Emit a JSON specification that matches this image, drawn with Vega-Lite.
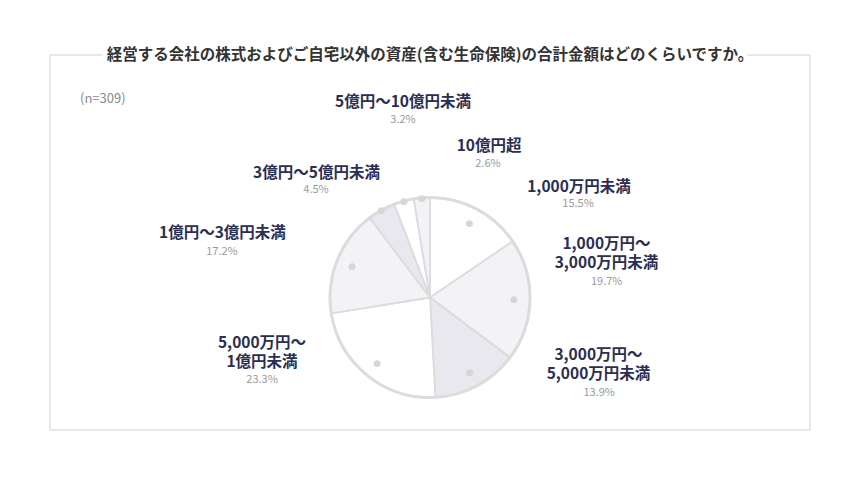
{
  "$schema": "https://vega.github.io/schema/vega-lite/v6.json",
  "width": 760,
  "height": 375,
  "autosize": "none",
  "padding": {"left": 50, "top": 55, "right": 50, "bottom": 50},
  "background": "white",
  "view": {"stroke": "#e8e8e8", "strokeWidth": 2},
  "title": {
    "text": "経営する会社の株式およびご自宅以外の資産(含む生命保険)の合計金額はどのくらいですか。",
    "subtitle": "経営する会社の株式およびご自宅以外の資産(含む生命保険)の合計金額はどのくらいですか。",
    "anchor": "middle",
    "frame": "group",
    "offset": -8,
    "baseline": "top",
    "font": "Noto Sans CJK JP",
    "fontSize": 15.5,
    "fontWeight": "bold",
    "color": "white",
    "subtitleFont": "Noto Sans CJK JP",
    "subtitleFontSize": 15.5,
    "subtitleFontWeight": "bold",
    "subtitleColor": "#333333",
    "subtitlePadding": -15.5
  },
  "config": {
    "style": {"group-title": {"stroke": "white", "strokeWidth": 10}},
    "text": {"font": "Noto Sans CJK JP"}
  },
  "data": {
    "values": [
      {"rank": 1, "category": "1,000万円未満", "label": "1,000万円未満", "share": 0.155},
      {"rank": 2, "category": "1,000万円〜3,000万円未満", "label": "1,000万円〜\n3,000万円未満", "share": 0.197},
      {"rank": 3, "category": "3,000万円〜5,000万円未満", "label": "3,000万円〜\n5,000万円未満", "share": 0.139},
      {"rank": 4, "category": "5,000万円〜1億円未満", "label": "5,000万円〜\n1億円未満", "share": 0.233},
      {"rank": 5, "category": "1億円〜3億円未満", "label": "1億円〜3億円未満", "share": 0.172},
      {"rank": 6, "category": "3億円〜5億円未満", "label": "3億円〜5億円未満", "share": 0.045},
      {"rank": 7, "category": "5億円〜10億円未満", "label": "5億円〜10億円未満", "share": 0.032},
      {"rank": 8, "category": "10億円超", "label": "10億円超", "share": 0.026}
    ]
  },
  "layer": [
    {
      "encoding": {
        "theta": {"field": "share", "type": "quantitative", "stack": true},
        "order": {"field": "rank", "type": "quantitative"}
      },
      "layer": [
        {
          "mark": {"type": "arc", "radius": 100, "yOffset": 55, "stroke": "#dcdcdc", "strokeWidth": 1.8},
          "encoding": {
            "color": {
              "field": "category",
              "type": "nominal",
              "legend": null,
              "scale": {
                "domain": ["1,000万円未満", "1,000万円〜3,000万円未満", "3,000万円〜5,000万円未満", "5,000万円〜1億円未満", "1億円〜3億円未満", "3億円〜5億円未満", "5億円〜10億円未満", "10億円超"],
                "range": ["#ffffff", "#f3f3f7", "#e8e8ee", "#ffffff", "#f3f3f7", "#e8e8ee", "#ffffff", "#f3f3f7"]
              }
            }
          }
        },
        {
          "mark": {"type": "arc", "radius": 100, "radius2": 100, "yOffset": 55, "fillOpacity": 0, "stroke": "#dcdcdc", "strokeWidth": 3}
        },
        {
          "mark": {"type": "text", "radius": 84, "yOffset": 55, "font": "DejaVu Sans", "fontSize": 9, "fill": "#d6d6d6", "align": "center", "baseline": "middle"},
          "encoding": {"text": {"condition": {"test": "datum.rank <= 5", "value": "●"}, "value": ""}}
        },
        {
          "mark": {"type": "text", "radius": 100, "yOffset": 55, "font": "DejaVu Sans", "fontSize": 9, "fill": "#d6d6d6", "align": "center", "baseline": "middle"},
          "encoding": {"text": {"condition": {"test": "datum.rank >= 6", "value": "●"}, "value": ""}}
        },

        {
          "mark": {"type": "text", "radius": 84, "yOffset": 55, "dx": 109.7, "dy": -36.5, "fontSize": 15.5, "fontWeight": "bold", "fill": "#2b2e50", "align": "center", "baseline": "middle", "lineBreak": "\n", "lineHeight": 19},
          "encoding": {"text": {"condition": {"test": "datum.rank == 1", "field": "label"}, "value": ""}}
        },
        {
          "mark": {"type": "text", "radius": 84, "yOffset": 55, "dx": 108.7, "dy": -19.3, "fontSize": 11, "fill": "#9a9a9a", "align": "center", "baseline": "middle"},
          "encoding": {"text": {"condition": {"test": "datum.rank == 1", "field": "share", "format": ".1%"}, "value": ""}}
        },

        {
          "mark": {"type": "text", "radius": 84, "yOffset": 55, "dx": 92.5, "dy": -55.5, "fontSize": 15.5, "fontWeight": "bold", "fill": "#2b2e50", "align": "center", "baseline": "middle", "lineBreak": "\n", "lineHeight": 19},
          "encoding": {"text": {"condition": {"test": "datum.rank == 2", "field": "label"}, "value": ""}}
        },
        {
          "mark": {"type": "text", "radius": 84, "yOffset": 55, "dx": 92.7, "dy": -17.5, "fontSize": 11, "fill": "#9a9a9a", "align": "center", "baseline": "middle"},
          "encoding": {"text": {"condition": {"test": "datum.rank == 2", "field": "share", "format": ".1%"}, "value": ""}}
        },

        {
          "mark": {"type": "text", "radius": 84, "yOffset": 55, "dx": 128.9, "dy": -16.5, "fontSize": 15.5, "fontWeight": "bold", "fill": "#2b2e50", "align": "center", "baseline": "middle", "lineBreak": "\n", "lineHeight": 19},
          "encoding": {"text": {"condition": {"test": "datum.rank == 3", "field": "label"}, "value": ""}}
        },
        {
          "mark": {"type": "text", "radius": 84, "yOffset": 55, "dx": 129.6, "dy": 21, "fontSize": 11, "fill": "#9a9a9a", "align": "center", "baseline": "middle"},
          "encoding": {"text": {"condition": {"test": "datum.rank == 3", "field": "share", "format": ".1%"}, "value": ""}}
        },

        {
          "mark": {"type": "text", "radius": 84, "yOffset": 55, "dx": -115.2, "dy": -19.8, "fontSize": 15.5, "fontWeight": "bold", "fill": "#2b2e50", "align": "center", "baseline": "middle", "lineBreak": "\n", "lineHeight": 19},
          "encoding": {"text": {"condition": {"test": "datum.rank == 4", "field": "label"}, "value": ""}}
        },
        {
          "mark": {"type": "text", "radius": 84, "yOffset": 55, "dx": -115.2, "dy": 17.3, "fontSize": 11, "fill": "#9a9a9a", "align": "center", "baseline": "middle"},
          "encoding": {"text": {"condition": {"test": "datum.rank == 4", "field": "share", "format": ".1%"}, "value": ""}}
        },

        {
          "mark": {"type": "text", "radius": 84, "yOffset": 55, "dx": -129.6, "dy": -32.7, "fontSize": 15.5, "fontWeight": "bold", "fill": "#2b2e50", "align": "center", "baseline": "middle", "lineBreak": "\n", "lineHeight": 19},
          "encoding": {"text": {"condition": {"test": "datum.rank == 5", "field": "label"}, "value": ""}}
        },
        {
          "mark": {"type": "text", "radius": 84, "yOffset": 55, "dx": -130.1, "dy": -14.5, "fontSize": 11, "fill": "#9a9a9a", "align": "center", "baseline": "middle"},
          "encoding": {"text": {"condition": {"test": "datum.rank == 5", "field": "share", "format": ".1%"}, "value": ""}}
        },

        {
          "mark": {"type": "text", "radius": 100, "yOffset": 55, "dx": -65, "dy": -37.2, "fontSize": 15.5, "fontWeight": "bold", "fill": "#2b2e50", "align": "center", "baseline": "middle", "lineBreak": "\n", "lineHeight": 19},
          "encoding": {"text": {"condition": {"test": "datum.rank == 6", "field": "label"}, "value": ""}}
        },
        {
          "mark": {"type": "text", "radius": 100, "yOffset": 55, "dx": -65.5, "dy": -20, "fontSize": 11, "fill": "#9a9a9a", "align": "center", "baseline": "middle"},
          "encoding": {"text": {"condition": {"test": "datum.rank == 6", "field": "share", "format": ".1%"}, "value": ""}}
        },

        {
          "mark": {"type": "text", "radius": 100, "yOffset": 55, "dx": -0.9, "dy": -98.5, "fontSize": 15.5, "fontWeight": "bold", "fill": "#2b2e50", "align": "center", "baseline": "middle", "lineBreak": "\n", "lineHeight": 19},
          "encoding": {"text": {"condition": {"test": "datum.rank == 7", "field": "label"}, "value": ""}}
        },
        {
          "mark": {"type": "text", "radius": 100, "yOffset": 55, "dx": -0.9, "dy": -80.5, "fontSize": 11, "fill": "#9a9a9a", "align": "center", "baseline": "middle"},
          "encoding": {"text": {"condition": {"test": "datum.rank == 7", "field": "share", "format": ".1%"}, "value": ""}}
        },

        {
          "mark": {"type": "text", "radius": 100, "yOffset": 55, "dx": 67.2, "dy": -51.6, "fontSize": 15.5, "fontWeight": "bold", "fill": "#2b2e50", "align": "center", "baseline": "middle", "lineBreak": "\n", "lineHeight": 19},
          "encoding": {"text": {"condition": {"test": "datum.rank == 8", "field": "label"}, "value": ""}}
        },
        {
          "mark": {"type": "text", "radius": 100, "yOffset": 55, "dx": 66.2, "dy": -33.8, "fontSize": 11, "fill": "#9a9a9a", "align": "center", "baseline": "middle"},
          "encoding": {"text": {"condition": {"test": "datum.rank == 8", "field": "share", "format": ".1%"}, "value": ""}}
        }
      ]
    },
    {
      "data": {"values": [{"note": "(n=309)"}]},
      "mark": {"type": "text", "fontSize": 13, "fill": "#8a8a8a", "align": "left", "baseline": "middle"},
      "encoding": {
        "text": {"field": "note", "type": "nominal"},
        "x": {"value": 30},
        "y": {"value": 44}
      }
    }
  ]
}
